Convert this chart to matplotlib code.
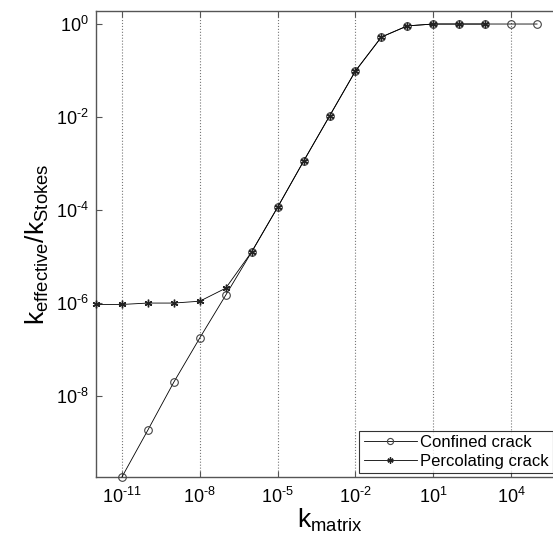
import numpy as np
import matplotlib
matplotlib.use('Agg')
import matplotlib.pyplot as plt
from matplotlib.ticker import FixedLocator, FuncFormatter, NullLocator

plt.rcParams['font.family'] = ['Liberation Sans', 'DejaVu Sans']
plt.rcParams['mathtext.fontset'] = 'custom'
plt.rcParams['mathtext.rm'] = 'Liberation Sans'
plt.rcParams['mathtext.it'] = 'Liberation Sans'

# ── data (log10 values) ───────────────────────────────────
conf_logk = [-11, -10, -9, -8, -7, -6, -5, -4, -3, -2, -1, 0, 1, 2, 3, 4, 5]
conf_logy = [-9.74, -8.73, -7.70, -6.75, -5.83, -4.90, -3.94, -2.95, -1.98,
             -1.01, -0.28, -0.04, 0.0, 0.0, 0.0, 0.0, 0.0]
perc_logk = [-12, -11, -10, -9, -8, -7, -6, -5, -4, -3, -2, -1, 0, 1, 2, 3]
perc_logy = [-6.03, -6.03, -6.00, -6.00, -5.96, -5.68, -4.90, -3.94, -2.95,
             -1.98, -1.01, -0.28, -0.04, 0.0, 0.0, 0.0]
xticks_exp = [-11, -8, -5, -2, 1, 4]
yticks_exp = [0, -2, -4, -6, -8]

fig = plt.figure(figsize=(5.53, 5.43), dpi=100)
W, H = 553, 543
ax = fig.add_axes([96 / W, 1 - 477 / H, (563 - 96) / W, (477 - 11) / H])

xc = 10.0 ** np.array(conf_logk)
yc = 10.0 ** np.array(conf_logy)
xp = 10.0 ** np.array(perc_logk)
yp = 10.0 ** np.array(perc_logy)

ax.plot(xc, yc, color='black', lw=0.6, marker='o', ms=5.5, mfc='none',
        mec='#444444', mew=0.8, label='Confined crack', clip_on=False, zorder=3)
ax.plot(xp, yp, color='black', lw=0.6, marker=(6, 2, 0), ms=5.5,
        mec='#222222', mew=1.0, label='Percolating crack', clip_on=False, zorder=3)

ax.set_xscale('log')
ax.set_yscale('log')
ax.set_xlim(1e-12, 1e6)
ax.set_ylim(10 ** -9.74, 10 ** 0.28)

ax.xaxis.set_major_locator(FixedLocator([10.0 ** e for e in xticks_exp]))
ax.yaxis.set_major_locator(FixedLocator([10.0 ** e for e in yticks_exp]))
ax.xaxis.set_minor_locator(NullLocator())
ax.yaxis.set_minor_locator(NullLocator())


def _fmt(v, p):
    e = int(round(np.log10(v)))
    s = ('\u2010%d' % -e) if e < 0 else '%d' % e
    return r'$\mathregular{10^{%s}}$' % s


fmt = FuncFormatter(_fmt)
ax.xaxis.set_major_formatter(fmt)
ax.yaxis.set_major_formatter(fmt)
ax.tick_params(direction='in', length=4, width=0.8, color='#555555',
               labelsize=13, top=True)
ax.tick_params(axis='x', pad=7)
ax.tick_params(axis='y', pad=5)
ax.grid(True, axis='x', linestyle=':', color='#777777', lw=0.8)
for s in ax.spines.values():
    s.set_color('#555555')
    s.set_linewidth(1)

ax.set_xlabel(r'$\mathregular{k_{matrix}}$', fontsize=19, labelpad=0)
ax.set_ylabel(r'$\mathregular{k_{effective}/k_{Stokes}}$', fontsize=19, labelpad=4)

leg = ax.legend(loc='lower right', bbox_to_anchor=(553 / W, 1 - 473 / H),
                bbox_transform=fig.transFigure, fontsize=12, frameon=True,
                fancybox=False, edgecolor='black', handlelength=3.2,
                borderpad=0.25, labelspacing=0.25, handletextpad=0.2,
                borderaxespad=0, markerscale=0.8)
leg.get_frame().set_linewidth(0.8)

fig.savefig('out.png', dpi=100)
